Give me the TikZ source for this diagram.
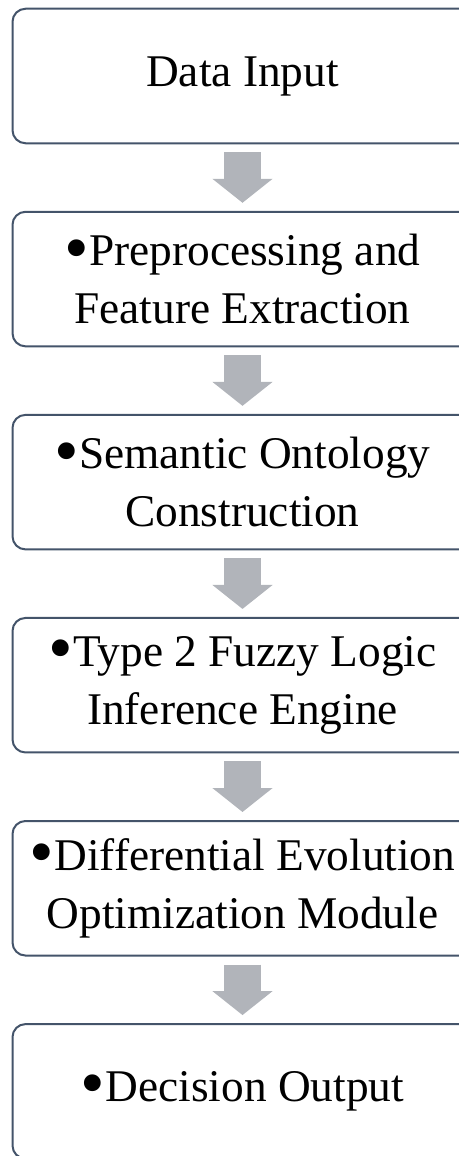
\documentclass[tikz,border=0pt]{standalone}
\usepackage{fontspec}
\setmainfont{Liberation Serif}
\usepackage{graphicx}
\usepackage{tikz}
\usetikzlibrary{positioning,arrows.meta}
\definecolor{frame}{HTML}{44546A}
\definecolor{flowgray}{HTML}{B1B4BA}
% larger list dot in front of each stage title
\newcommand{\stagedot}{\raisebox{-0.12em}{\scalebox{1.55}{•}}}

\begin{document}
\begin{tikzpicture}[
  x=0.75pt, y=-0.75pt,
  every node/.style={font=\fontsize{34}{43.5}\selectfont},
  stage/.style={draw=frame, line width=1.5pt, rounded corners=9.75pt, fill=white,
                text=black, align=center, minimum width=345pt, minimum height=100.9pt,
                inner sep=0pt, outer sep=0pt},
  flow/.style={draw=flowgray, line width=27.75pt, shorten <=6.75pt, shorten >=6.75pt,
               -{Triangle[length=18pt, width=44.25pt]}}
]
  \useasboundingbox (0,0) rectangle (459,1156);
  \clip (0,0) rectangle (459,1156);

  \node[stage] (input) at (242.5,76) {Data Input};
  \node[stage, below=51.4pt of input] (prep) {\stagedot Preprocessing and\\ Feature Extraction};
  \node[stage, below=51.4pt of prep] (onto) {\stagedot Semantic Ontology\\ Construction};
  \node[stage, below=51.4pt of onto] (fuzzy) {\stagedot Type 2 Fuzzy Logic\\ Inference Engine};
  \node[stage, below=51.4pt of fuzzy] (de) {\stagedot Differential Evolution\\ Optimization Module};
  \node[stage, below=51.4pt of de] (out) {\stagedot Decision Output};

  \draw[flow] (input.south) -- (prep.north);
  \draw[flow] (prep.south) -- (onto.north);
  \draw[flow] (onto.south) -- (fuzzy.north);
  \draw[flow] (fuzzy.south) -- (de.north);
  \draw[flow] (de.south) -- (out.north);
\end{tikzpicture}
\end{document}
